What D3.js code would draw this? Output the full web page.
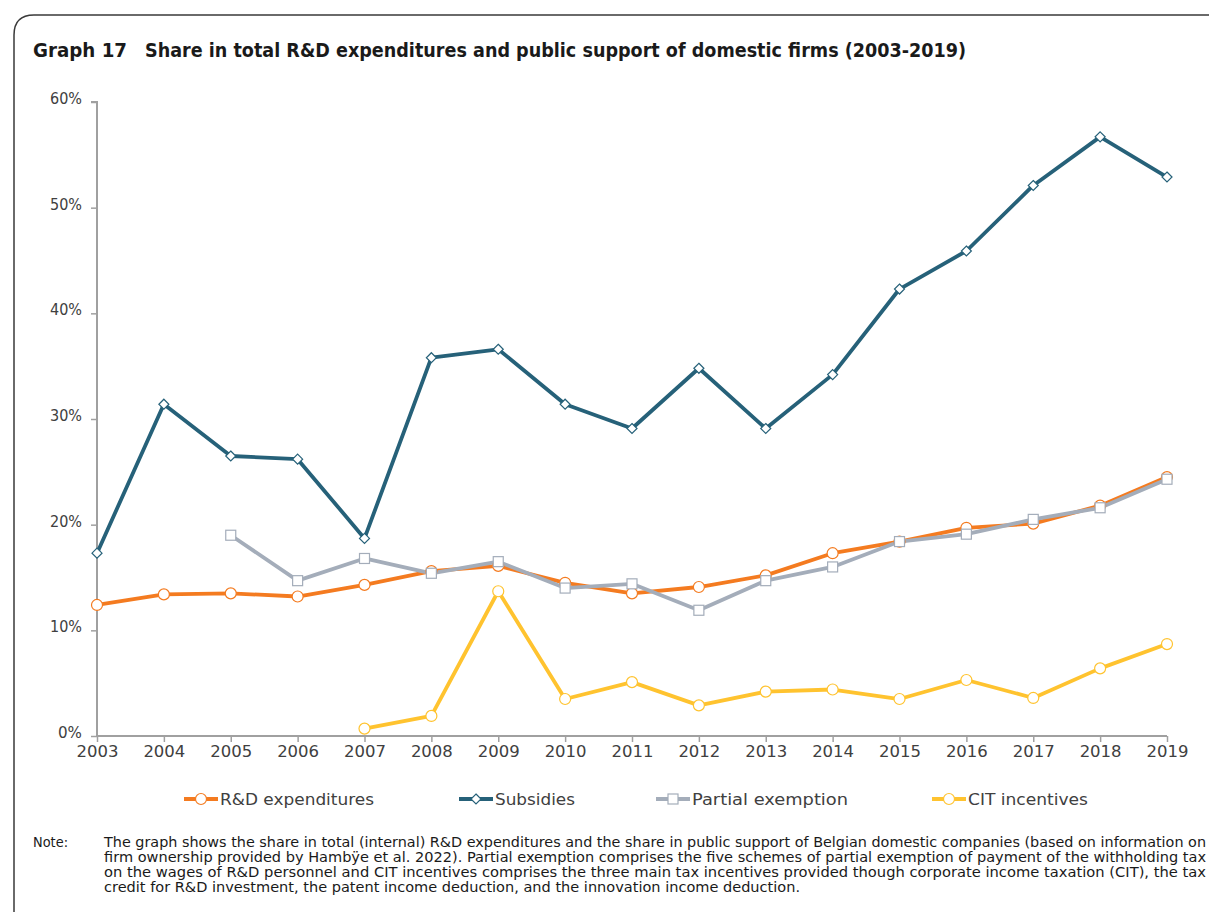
<!DOCTYPE html>
<html>
<head>
<meta charset="utf-8">
<script src="https://cdn.jsdelivr.net/npm/d3@7"></script>
<style>
  html, body { margin: 0; padding: 0; background: #fff; }
  svg { display: block; }
  text { font-family: "DejaVu Sans", Verdana, sans-serif; }
</style>
</head>
<body>
<svg id="chart" width="1211" height="914"></svg>
<script>
// Years on the x axis
const years = [2003, 2004, 2005, 2006, 2007, 2008, 2009, 2010, 2011, 2012, 2013, 2014, 2015, 2016, 2017, 2018, 2019];

// Shares (%) for each series; null where no value exists
const rdExpenditures = [12.4, 13.4, 13.5, 13.2, 14.3, 15.6, 16.1, 14.5, 13.5, 14.1, 15.2, 17.3, 18.4, 19.7, 20.1, 21.8, 24.5];
const subsidies = [17.3, 31.4, 26.5, 26.2, 18.7, 35.8, 36.6, 31.4, 29.1, 34.8, 29.1, 34.2, 42.3, 45.9, 52.1, 56.7, 52.9];
const partialExemption = [null, null, 19.0, 14.7, 16.8, 15.4, 16.5, 14.0, 14.4, 11.9, 14.7, 16.0, 18.4, 19.1, 20.5, 21.6, 24.3];
const citIncentives = [null, null, null, null, 0.7, 1.9, 13.7, 3.5, 5.1, 2.9, 4.2, 4.4, 3.5, 5.3, 3.6, 6.4, 8.7];

const yTicks = [0, 10, 20, 30, 40, 50, 60];

const seriesNames = ["R&D expenditures", "Subsidies", "Partial exemption", "CIT incentives"];

const titleText = "Share in total R&D expenditures and public support of domestic firms (2003-2019)";
const noteLines = [
  "The graph shows the share in total (internal) R&D expenditures and the share in public support of Belgian domestic companies (based on information on",
  "firm ownership provided by Hambÿe et al. 2022). Partial exemption comprises the five schemes of partial exemption of payment of the withholding tax",
  "on the wages of R&D personnel and CIT incentives comprises the three main tax incentives provided though corporate income taxation (CIT), the tax",
  "credit for R&D investment, the patent income deduction, and the innovation income deduction."
];

const series = [
  { name: seriesNames[0], values: rdExpenditures, color: "#f47b20", marker: "circle", mstroke: "#f47b20" },
  { name: seriesNames[1], values: subsidies, color: "#266179", marker: "diamond", mstroke: "#266179" },
  { name: seriesNames[2], values: partialExemption, color: "#a4adba", marker: "square", mstroke: "#a4adba" },
  { name: seriesNames[3], values: citIncentives, color: "#ffc32f", marker: "circle", mstroke: "#ffc32f" }
];

const svg = d3.select("#chart");

// Frame with a rounded top-left corner
const r = 20;
svg.append("path")
  .attr("d", `M14,912 L14,${15 + r} Q14,15 ${14 + r},15 L1209,15`)
  .attr("fill", "none")
  .attr("stroke", "#3a3a3a")
  .attr("stroke-width", 1.5);

// Title
const title = svg.append("text")
  .attr("x", 33).attr("y", 57)
  .attr("font-size", 19).attr("font-weight", "bold").attr("fill", "#1a1a1a");
title.append("tspan").attr("textLength", 94).attr("lengthAdjust", "spacingAndGlyphs").text("Graph 17");
title.append("tspan").attr("x", 145).attr("textLength", 821).attr("lengthAdjust", "spacingAndGlyphs").text(titleText);

// Scales
const x = d3.scalePoint().domain(years).range([97, 1167]);
const y = d3.scaleLinear().domain([0, 60]).range([736, 102]);

const axisColor = "#a0a0a0";
const labelColor = "#404040";

// Y axis
const yAxis = svg.append("g")
  .attr("transform", "translate(97,0)")
  .call(d3.axisLeft(y).tickValues(yTicks).tickSize(6).tickPadding(8).tickFormat(d => d + "%"));
yAxis.select(".domain").attr("stroke", axisColor).attr("stroke-width", 2).attr("d", `M-6,${y(60)}H0V${y(0)}`);
yAxis.selectAll(".tick line").attr("stroke", axisColor).attr("stroke-width", 1.5);
yAxis.selectAll(".tick text").attr("font-size", 15).attr("fill", labelColor)
  .attr("font-family", "DejaVu Sans, sans-serif").attr("dx", -1).attr("dy", "0.1em")
  .attr("textLength", d => d === 0 ? 24 : 32).attr("lengthAdjust", "spacingAndGlyphs");

// X axis
const xAxis = svg.append("g")
  .attr("transform", `translate(0,${y(0)})`)
  .call(d3.axisBottom(x).tickSize(6).tickPadding(4).tickFormat(d3.format("d")));
xAxis.select(".domain").attr("stroke", axisColor).attr("stroke-width", 2).attr("d", `M97,0H1167`);
xAxis.selectAll(".tick line").attr("stroke", axisColor).attr("stroke-width", 1.5);
xAxis.selectAll(".tick text").attr("font-size", 15.5).attr("fill", labelColor)
  .attr("font-family", "DejaVu Sans, sans-serif").attr("textLength", 42).attr("lengthAdjust", "spacingAndGlyphs");

// Marker drawing helper
function drawMarker(sel, kind, stroke) {
  if (kind === "circle") {
    sel.append("circle").attr("r", 5.5).attr("fill", "#fff").attr("stroke", stroke).attr("stroke-width", 1.2);
  } else if (kind === "diamond") {
    sel.append("path").attr("d", "M0,-5L5,0L0,5L-5,0Z").attr("fill", "#fff").attr("stroke", stroke).attr("stroke-width", 1.2);
  } else {
    sel.append("rect").attr("x", -5).attr("y", -5).attr("width", 10).attr("height", 10)
      .attr("fill", "#fff").attr("stroke", stroke).attr("stroke-width", 1.2);
  }
}

const line = d3.line()
  .defined(d => d.v !== null)
  .x(d => x(d.year))
  .y(d => y(d.v));

const plot = svg.append("g");
series.forEach(s => {
  const pts = years.map((yr, i) => ({ year: yr, v: s.values[i] }));
  plot.append("path")
    .datum(pts)
    .attr("fill", "none")
    .attr("stroke", s.color)
    .attr("stroke-width", 3.8)
    .attr("stroke-linejoin", "round")
    .attr("d", line);
});
series.forEach(s => {
  const pts = years.map((yr, i) => ({ year: yr, v: s.values[i] })).filter(d => d.v !== null);
  plot.selectAll(null).data(pts).enter().append("g")
    .attr("transform", d => `translate(${x(d.year)},${y(d.v)})`)
    .each(function () { drawMarker(d3.select(this), s.marker, s.mstroke); });
});

// Legend
const legendX = [184, 459, 656, 932];
const legendTextW = [154, 80, 156, 120];
const legend = svg.append("g").attr("transform", "translate(0,799)");
series.forEach((s, i) => {
  const g = legend.append("g").attr("transform", `translate(${legendX[i]},0)`);
  g.append("line").attr("x1", 0).attr("x2", 34).attr("y1", 0).attr("y2", 0)
    .attr("stroke", s.color).attr("stroke-width", 3.8);
  const m = g.append("g").attr("transform", "translate(17,0)");
  drawMarker(m, s.marker, s.mstroke);
  g.append("text").attr("x", 36).attr("y", 5.5)
    .attr("font-size", 15.5).attr("fill", labelColor)
    .attr("textLength", legendTextW[i]).attr("lengthAdjust", "spacingAndGlyphs")
    .text(s.name);
});

// Note
const note = svg.append("g").attr("fill", "#1a1a1a").attr("font-size", 14);
note.append("text").attr("x", 33).attr("y", 847)
  .attr("textLength", 35).attr("lengthAdjust", "spacingAndGlyphs").text("Note:");
const noteWidths = [1102, 1102, 1102, 696];
noteLines.forEach((t, i) => {
  note.append("text").attr("x", 104).attr("y", 847 + i * 15)
    .attr("textLength", noteWidths[i]).attr("lengthAdjust", "spacingAndGlyphs")
    .text(t);
});
</script>
</body>
</html>
